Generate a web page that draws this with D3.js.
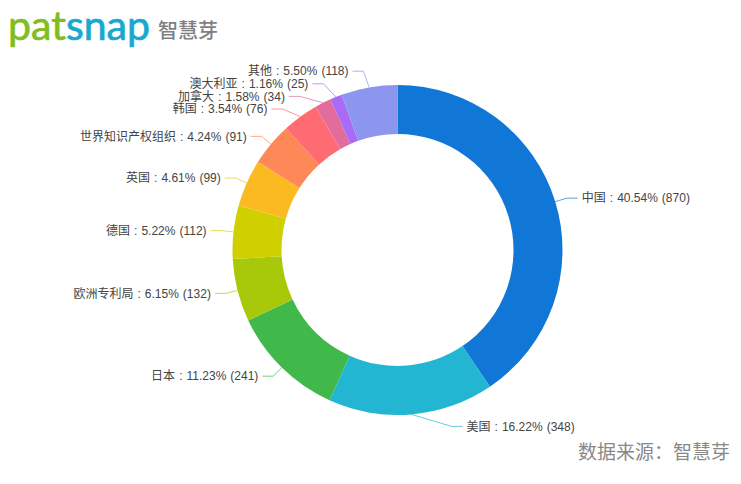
<!DOCTYPE html>
<html>
<head>
<meta charset="utf-8">
<script src="https://cdn.jsdelivr.net/npm/d3@7"></script>
<style>
    html, body { margin: 0; padding: 0; background: #fff; }
    svg { display: block; }
    text { font-family: "Liberation Sans", "Noto Sans CJK SC", sans-serif; }
</style>
</head>
<body>
<div id="wrapper"></div>
<script>
const categories = ["中国", "美国", "日本", "欧洲专利局", "德国", "英国", "世界知识产权组织", "韩国", "加拿大", "澳大利亚", "其他"]
const counts = [870, 348, 241, 132, 112, 99, 91, 76, 34, 25, 118]
const percents = ["40.54", "16.22", "11.23", "6.15", "5.22", "4.61", "4.24", "3.54", "1.58", "1.16", "5.50"]
const colors = ["#1177d6", "#22b6d2", "#40b94a", "#a8c90a", "#d0d000", "#fcba22", "#ff8859", "#ff6b72", "#e46c9c", "#a96bf5", "#8c96ee"]

const width = 741
const height = 484
const cx = 397.5
const cy = 250
const outerRadius = 165
const innerRadius = 116
const elbowRadius = 177
const shiftedElbowRadius = 182
const minBottomElbow = 54
const lineGap = 12.6

const wrapper = d3.select("#wrapper")
    .append("svg")
        .attr("width", width)
        .attr("height", height)

// logo
const logo = wrapper.append("text")
    .attr("x", 8)
    .attr("y", 40)
    .attr("textLength", 142)
    .attr("lengthAdjust", "spacing")
    .attr("stroke-width", 0.7)
    .style("font-family", "Lato")
    .style("font-size", "41px")
logo.append("tspan").attr("fill", "#7fbe1e").attr("stroke", "#7fbe1e").text("pat")
logo.append("tspan").attr("fill", "#17a9cf").attr("stroke", "#17a9cf").text("snap")

wrapper.append("text")
    .attr("x", 158)
    .attr("y", 38)
    .attr("fill", "#7f7f7f")
    .style("font-size", "20px")
    .style("font-weight", "500")
    .text("智慧芽")

wrapper.append("text")
    .attr("x", 730)
    .attr("y", 459)
    .attr("text-anchor", "end")
    .attr("fill", "#888")
    .style("font-size", "19px")
    .text("数据来源：智慧芽")

// ring
const pie = d3.pie().sort(null).value(d => d)
const arcs = pie(counts)
const arc = d3.arc().innerRadius(innerRadius).outerRadius(outerRadius)

const bounds = wrapper.append("g")
    .attr("transform", `translate(${cx},${cy})`)

bounds.selectAll("path.slice")
    .data(arcs)
    .join("path")
        .attr("class", "slice")
        .attr("d", arc)
        .attr("fill", (d, i) => colors[i])

// labels, pushed apart so they don't overlap (left and right handled separately)
const labels = arcs.map((d, i) => {
    const mid = (d.startAngle + d.endAngle) / 2
    const y = -Math.cos(mid) * elbowRadius
    return {
        i,
        mid,
        side: Math.sin(mid) >= 0 ? 1 : -1,
        naturalY: y,
        y,
    }
})

for (const side of [1, -1]) {
    const group = labels.filter(l => l.side === side).sort((a, b) => a.y - b.y)
    for (let pass = 0; pass < 200; pass++) {
        for (let j = 1; j < group.length; j++) {
            const overlap = group[j - 1].y + lineGap - group[j].y
            if (overlap > 0) {
                group[j - 1].y -= overlap / 2
                group[j].y += overlap / 2
            }
        }
    }
}

labels.forEach(l => {
    const startX = Math.sin(l.mid) * outerRadius
    const startY = -Math.cos(l.mid) * outerRadius
    const shifted = Math.abs(l.y - l.naturalY) > 0.01
    const radius = shifted ? shiftedElbowRadius : elbowRadius
    let elbowOffset = Math.sqrt(Math.max(radius * radius - l.y * l.y, 0))
    if (l.y > 0) elbowOffset = Math.max(elbowOffset, minBottomElbow)
    const elbowX = l.side * elbowOffset
    const endX = elbowX + l.side * 11

    bounds.append("path")
        .attr("d", d3.line()([[startX, startY], [elbowX, l.y], [endX, l.y]]))
        .attr("fill", "none")
        .attr("stroke", colors[l.i])
        .attr("stroke-opacity", 0.7)
        .attr("stroke-width", 1)

    bounds.append("text")
        .attr("x", endX + l.side * 4)
        .attr("y", l.y)
        .attr("dy", "0.35em")
        .attr("text-anchor", l.side > 0 ? "start" : "end")
        .attr("fill", "#444")
        .style("font-size", "12px")
        .style("word-spacing", "0.7px")
        .text(`${categories[l.i]} : ${percents[l.i]}% (${counts[l.i]})`)
})
</script>
</body>
</html>
